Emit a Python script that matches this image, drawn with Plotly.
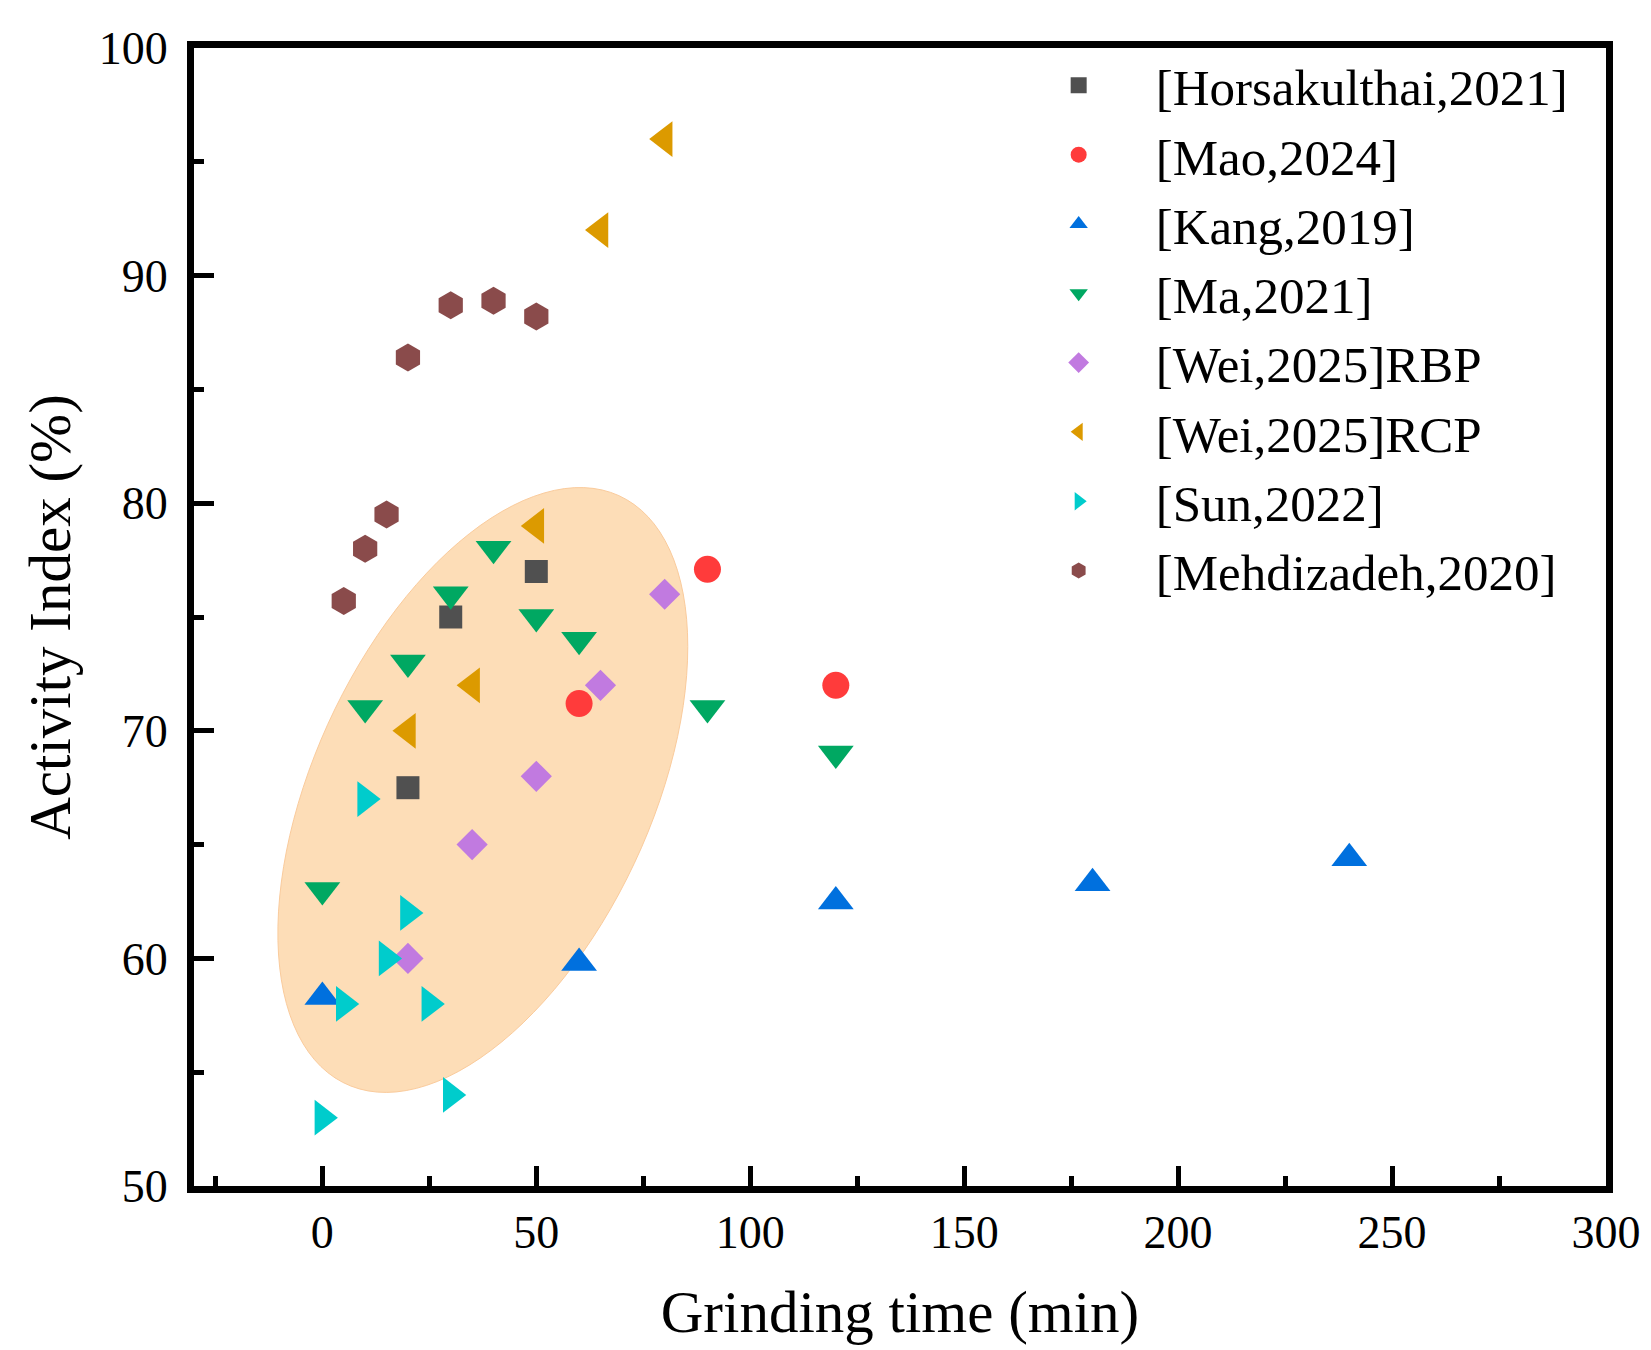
import numpy as np
import plotly.graph_objects as go

# Grinding time (min) / activity index (%) per source
horsakulthai_x = [20, 30, 50]
horsakulthai_y = [67.5, 75.0, 77.0]

mao_x = [60, 90, 120]
mao_y = [71.2, 77.1, 72.0]

kang_x = [0, 60, 120, 180, 240]
kang_y = [58.3, 59.8, 62.5, 63.3, 64.4]

ma_x = [0, 10, 20, 30, 40, 50, 60, 90, 120]
ma_y = [63.0, 71.0, 73.0, 76.0, 78.0, 75.0, 74.0, 71.0, 69.0]

wei_rbp_x = [20, 35, 50, 65, 80]
wei_rbp_y = [60.0, 65.0, 68.0, 72.0, 76.0]

wei_rcp_x = [20, 35, 50, 65, 80]
wei_rcp_y = [70.0, 72.0, 79.0, 92.0, 96.0]

sun_x = [0, 5, 10, 15, 20, 25, 30]
sun_y = [53.0, 58.0, 67.0, 60.0, 62.0, 58.0, 54.0]

mehdizadeh_x = [5, 10, 15, 20, 30, 40, 50]
mehdizadeh_y = [75.7, 78.0, 79.5, 86.4, 88.7, 88.9, 88.2]

x_ticks = [0, 50, 100, 150, 200, 250, 300]
y_ticks = [50, 60, 70, 80, 90, 100]

# highlighted region (data units): centre and two conjugate half-axes
ellipse_center = (37.5, 67.4)
ellipse_u = (47.9, 6.3)
ellipse_v = (0.0, -11.7)

FONT = "Liberation Serif"

SERIES = [
    ("[Horsakulthai,2021]", horsakulthai_x, horsakulthai_y, "square", 23, "#505050"),
    ("[Mao,2024]", mao_x, mao_y, "circle", 27, "#FF3B3B"),
    ("[Kang,2019]", kang_x, kang_y, "triangle-up", 31, "#0070DE"),
    ("[Ma,2021]", ma_x, ma_y, "triangle-down", 31, "#00A862"),
    ("[Wei,2025]RBP", wei_rbp_x, wei_rbp_y, "diamond", 24, "#C17AE0"),
    ("[Wei,2025]RCP", wei_rcp_x, wei_rcp_y, "triangle-left", 31, "#DC9A00"),
    ("[Sun,2022]", sun_x, sun_y, "triangle-right", 31, "#00CCCC"),
    ("[Mehdizadeh,2020]", mehdizadeh_x, mehdizadeh_y, "hexagon", 28, "#8A4B4B"),
]


def _ellipse_path(center, u, v, n=120):
    t = np.linspace(0, 2 * np.pi, n)
    xs = center[0] + u[0] * np.cos(t) + v[0] * np.sin(t)
    ys = center[1] + u[1] * np.cos(t) + v[1] * np.sin(t)
    pts = [f"{x:.3f},{y:.3f}" for x, y in zip(xs, ys)]
    return "M" + " L".join(pts) + " Z"


def main():
    fig = go.Figure()

    for name, xs, ys, symbol, size, color in SERIES:
        fig.add_trace(
            go.Scatter(
                x=xs,
                y=ys,
                mode="markers",
                name=name,
                marker=dict(symbol=symbol, size=size, color=color, line=dict(width=0)),
            )
        )

    fig.add_shape(
        type="path",
        xref="x",
        yref="y",
        path=_ellipse_path(ellipse_center, ellipse_u, ellipse_v),
        fillcolor="#FDDDB7",
        line=dict(color="#FACB9C", width=1),
        layer="below",
    )

    axis_common = dict(
        showline=True,
        linecolor="black",
        linewidth=7,
        mirror=True,
        showgrid=False,
        zeroline=False,
        ticks="inside",
        ticklen=20,
        tickwidth=5,
        tickcolor="black",
        tickfont=dict(family=FONT, size=46, color="black"),
    )

    fig.update_xaxes(
        range=[-30, 300],
        tickvals=x_ticks,
        minor=dict(ticks="inside", dtick=25, tick0=0, ticklen=10, tickwidth=5, tickcolor="black"),
        title=dict(text="Grinding time (min)", font=dict(family=FONT, size=59, color="black"), standoff=36),
        **axis_common,
    )
    fig.update_yaxes(
        range=[50, 100],
        tickvals=y_ticks,
        ticklabelstandoff=10,
        minor=dict(ticks="inside", dtick=5, tick0=0, ticklen=10, tickwidth=5, tickcolor="black"),
        title=dict(text="Activity Index (%)", font=dict(family=FONT, size=59, color="black"), standoff=12),
        **axis_common,
    )

    fig.update_layout(
        width=1651,
        height=1350,
        margin=dict(l=186, r=53, t=40, b=172),
        paper_bgcolor="white",
        plot_bgcolor="white",
        font=dict(family=FONT, color="black"),
        legend=dict(
            x=0.572,
            y=1.002,
            xanchor="left",
            yanchor="top",
            bgcolor="rgba(0,0,0,0)",
            font=dict(family=FONT, size=51, color="black"),
            itemwidth=144,
            tracegroupgap=0,
        ),
    )

    fig.write_html("out.html")


if __name__ == "__main__":
    main()
